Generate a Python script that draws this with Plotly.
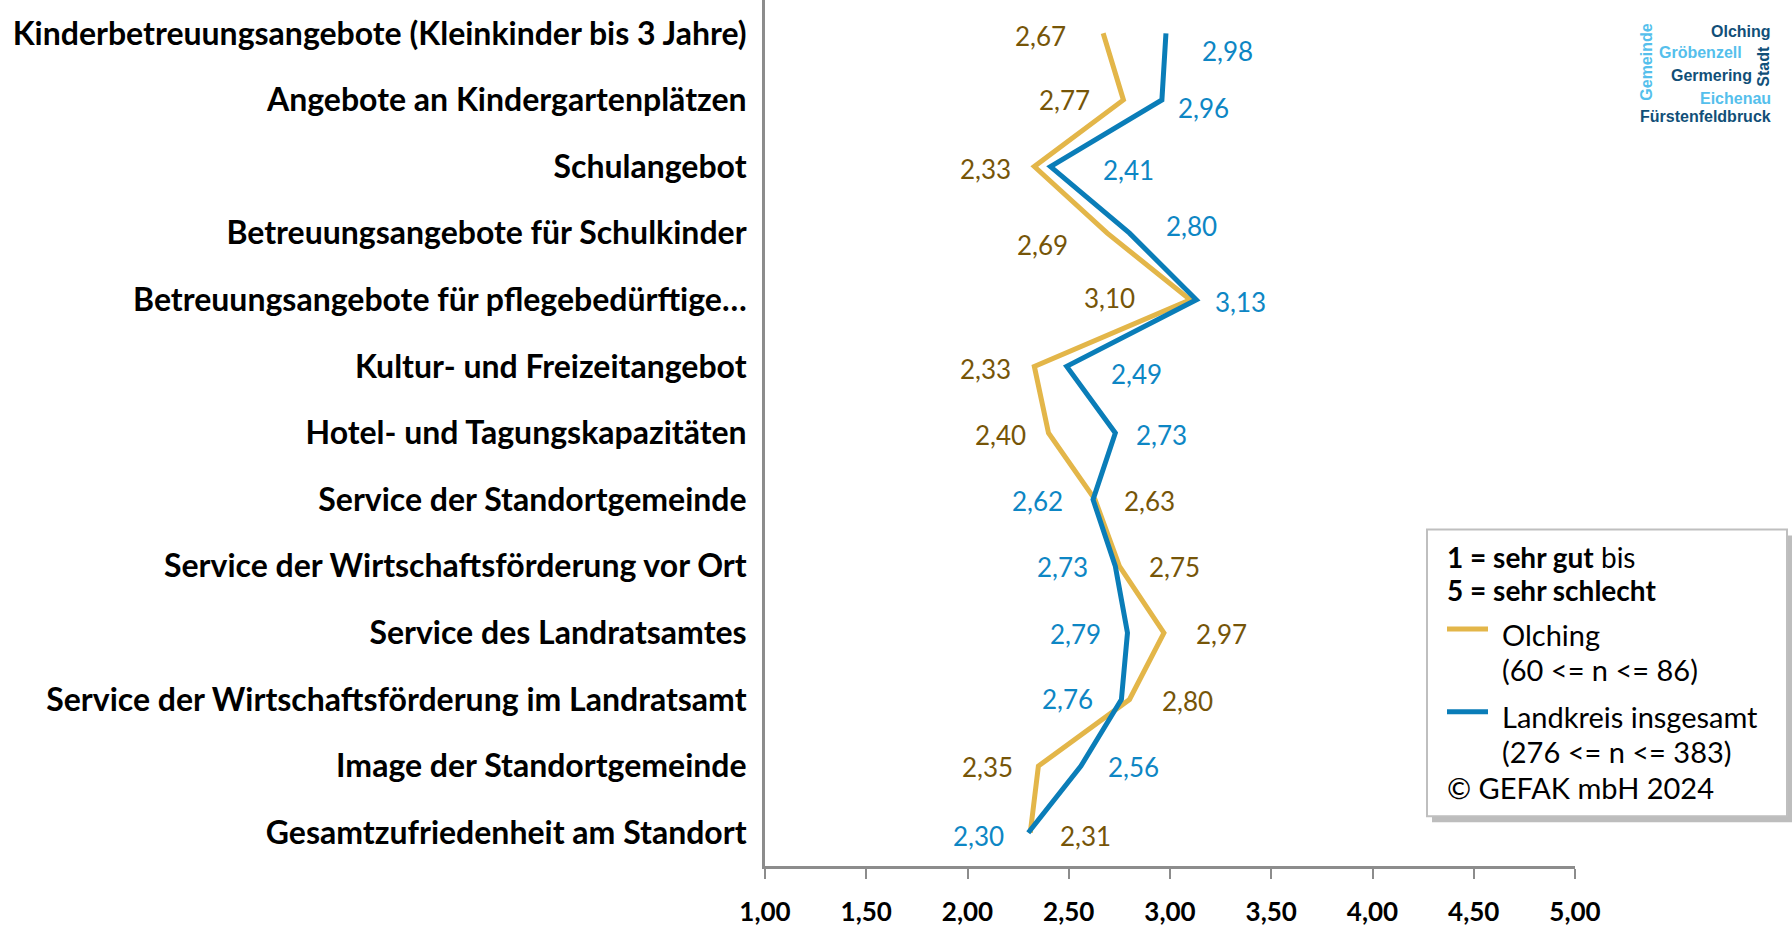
import plotly.graph_objects as go

# Kategorien (von oben nach unten)
categories = [
    "Kinderbetreuungsangebote (Kleinkinder bis 3 Jahre)",
    "Angebote an Kindergartenplätzen",
    "Schulangebot",
    "Betreuungsangebote für Schulkinder",
    "Betreuungsangebote für pflegebedürftige…",
    "Kultur- und Freizeitangebot",
    "Hotel- und Tagungskapazitäten",
    "Service der Standortgemeinde",
    "Service der Wirtschaftsförderung vor Ort",
    "Service des Landratsamtes",
    "Service der Wirtschaftsförderung im Landratsamt",
    "Image der Standortgemeinde",
    "Gesamtzufriedenheit am Standort",
]

olching = [2.67, 2.77, 2.33, 2.69, 3.10, 2.33, 2.40, 2.63, 2.75, 2.97, 2.80, 2.35, 2.31]
landkreis = [2.98, 2.96, 2.41, 2.80, 3.13, 2.49, 2.73, 2.62, 2.73, 2.79, 2.76, 2.56, 2.30]

x_ticks = [1.0, 1.5, 2.0, 2.5, 3.0, 3.5, 4.0, 4.5, 5.0]

# Beschriftungsposition der Datenwerte (Seite, Abstand px, vertikaler Versatz px)
olching_side = ["l", "l", "l", "l", "l", "l", "l", "r", "r", "r", "r", "l", "r"]
olching_gap = [35, 31, 21, 37, 53, 21, 21, 27, 28, 30, 30, 23, 28]
olching_dy = [-3, 0, -2, -12, 2, -3, -2, -1, -1, -1, -2, -1, -3]
landkreis_side = ["r", "r", "r", "r", "r", "r", "r", "l", "l", "l", "l", "r", "l"]
landkreis_gap = [34, 14, 50, 34, 17, 42, 19, 28, 25, 24, 26, 25, 22]
landkreis_dy = [-18, -8, -3, 7, -2, -8, -2, -1, -1, -1, 0, -1, -3]

GOLD = "#E3B649"
GOLD_TXT = "#765508"
BLUE = "#0A7DB8"
BLUE_TXT = "#0D86C4"
DARK = "#114F78"
LIGHT = "#55BFEC"
FONT = "Lato"

W, H = 1792, 927
ML, MR, MT, MB = 765, 217, 0, 57
PW, PH = W - ML - MR, H - MT - MB

fig = go.Figure()
fig.add_trace(go.Scatter(x=olching, y=categories, mode="lines",
                         line=dict(color=GOLD, width=5), name="Olching"))
fig.add_trace(go.Scatter(x=landkreis, y=categories, mode="lines",
                         line=dict(color=BLUE, width=5), name="Landkreis insgesamt"))

annotations = []


def add_labels(values, sides, gaps, dys, color):
    for v, cat, s, g, d in zip(values, categories, sides, gaps, dys):
        annotations.append(dict(
            x=v, y=cat, xref="x", yref="y", showarrow=False,
            text=f"{v:.2f}".replace(".", ","),
            xanchor="right" if s == "l" else "left",
            xshift=-g if s == "l" else g, yshift=d,
            font=dict(family=FONT, size=26, color=color)))


add_labels(olching, olching_side, olching_gap, olching_dy, GOLD_TXT)
add_labels(landkreis, landkreis_side, landkreis_gap, landkreis_dy, BLUE_TXT)


def px(x, y):
    # Pixel der Seite -> paper-Koordinaten des Plotbereichs
    return (x - ML) / PW, (H - MB - y) / PH


# Legende (Kasten rechts unten)
shapes = []
x0, y0 = px(1427, 532)
x1, y1 = px(1787, 820)
sx0, sy0 = px(1432, 538)
sx1, sy1 = px(1792, 826)
shapes.append(dict(type="rect", xref="paper", yref="paper", x0=sx0, y0=sy0, x1=sx1, y1=sy1,
                   fillcolor="#BDBDBD", line=dict(width=0), layer="above"))
shapes.append(dict(type="rect", xref="paper", yref="paper", x0=x0, y0=y0, x1=x1, y1=y1,
                   fillcolor="white", line=dict(color="#BFBFBF", width=2), layer="above"))
for yy, col in [(632, GOLD), (715, BLUE)]:
    lx0, ly = px(1447, yy)
    lx1, _ = px(1488, yy)
    shapes.append(dict(type="line", xref="paper", yref="paper", x0=lx0, x1=lx1, y0=ly, y1=ly,
                       line=dict(color=col, width=5), layer="above"))

legend_lines = [
    (1445, 560, "<b>1 = sehr gut</b> bis", 28),
    (1445, 593, "<b>5 = sehr schlecht</b>", 28),
    (1500, 637, "Olching", 29),
    (1500, 673, "(60 &lt;= n &lt;= 86)", 29),
    (1500, 720, "Landkreis insgesamt", 29),
    (1500, 755, "(276 &lt;= n &lt;= 383)", 29),
    (1445, 791, "© GEFAK mbH 2024", 29),
]
for lx, ly, t, fs in legend_lines:
    ax, ay = px(lx, ly)
    annotations.append(dict(x=ax, y=ay, xref="paper", yref="paper", showarrow=False,
                            text=t, xanchor="left", yanchor="middle",
                            font=dict(family=FONT, size=fs, color="black")))

# Logo oben rechts
logo = [
    (1741, 32, "Olching", DARK, 0),
    (1700, 53, "Gröbenzell", LIGHT, 0),
    (1711, 76, "Germering", DARK, 0),
    (1735, 99, "Eichenau", LIGHT, 0),
    (1705, 117, "Fürstenfeldbruck", DARK, 0),
    (1647, 63, "Gemeinde", LIGHT, -90),
    (1764, 67, "Stadt", DARK, -90),
]
for lx, ly, t, col, rot in logo:
    ax, ay = px(lx, ly)
    annotations.append(dict(x=ax, y=ay, xref="paper", yref="paper", showarrow=False,
                            text=f"<b>{t}</b>", textangle=rot,
                            xanchor="center", yanchor="middle",
                            font=dict(family="Liberation Sans", size=16, color=col)))

fig.update_layout(
    width=W, height=H,
    margin=dict(l=ML, r=MR, t=MT, b=MB),
    plot_bgcolor="white", paper_bgcolor="white",
    showlegend=False,
    separators=", ",
    annotations=annotations,
    shapes=shapes,
    xaxis=dict(range=[1, 5], tickvals=x_ticks, tickformat=".2f",
               showgrid=False, zeroline=False,
               showline=True, linecolor="#8C8C8C", linewidth=3,
               ticks="outside", ticklen=10, tickwidth=2, tickcolor="#8C8C8C",
               ticklabelstandoff=11,
               tickfont=dict(family=FONT, size=26, color="black", weight="bold")),
    yaxis=dict(categoryorder="array", categoryarray=categories,
               range=[len(categories) - 0.5, -0.5],
               showgrid=False, zeroline=False,
               showline=True, linecolor="#8C8C8C", linewidth=3,
               ticks="", ticklabelstandoff=9,
               tickfont=dict(family=FONT, size=32, color="black", weight="bold")),
)

fig.write_html("out.html", config={"displayModeBar": False},
               post_script="document.body.style.margin='0';")
